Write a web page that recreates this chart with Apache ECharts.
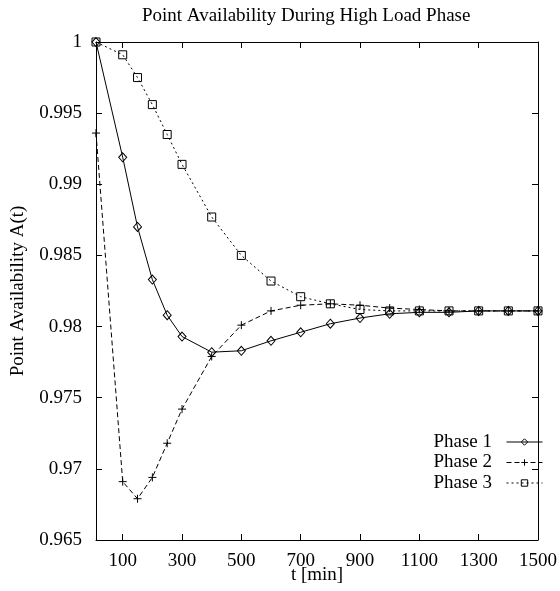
<!DOCTYPE html>
<html>
<head>
<meta charset="utf-8">
<script src="https://cdn.jsdelivr.net/npm/echarts@6/dist/echarts.min.js"></script>
<style>html,body{margin:0;padding:0;background:#fff}#c{width:560px;height:591px}</style>
</head>
<body>
<div id="c"></div>
<script>
const titleText = 'Point Availability During High Load Phase';
const xName = 't [min]';
const yName = 'Point Availability A(t)';
const seriesNames = ['Phase 1', 'Phase 2', 'Phase 3'];
const tValues = [10, 100, 150, 200, 250, 300, 400, 500, 600, 700, 800, 900, 1000, 1100, 1200, 1300, 1400, 1500];
const phase1 = [1.0, 0.9919, 0.9870, 0.9833, 0.9808, 0.9793, 0.9782, 0.9783, 0.9790, 0.9796, 0.9802, 0.9806, 0.9809, 0.9810, 0.9810, 0.9811, 0.9811, 0.9811];
const phase2 = [0.9936, 0.9691, 0.9679, 0.9694, 0.9718, 0.9742, 0.9779, 0.9801, 0.9811, 0.9815, 0.9816, 0.9815, 0.9813, 0.9812, 0.9811, 0.9811, 0.9811, 0.9811];
const phase3 = [1.0, 0.9991, 0.9975, 0.9956, 0.9935, 0.9914, 0.9877, 0.9850, 0.9832, 0.9821, 0.9816, 0.9812, 0.9811, 0.9811, 0.9811, 0.9811, 0.9811, 0.9811];
const xTicks = [100, 300, 500, 700, 900, 1100, 1300, 1500];
const xMin = 10, xMax = 1500;
const yMin = 0.965, yMax = 1, yStep = 0.005;

const FONT = 'Liberation Serif';
const pair = arr => tValues.map((t, i) => [t, arr[i]]);
const axisLineStyle = { lineStyle: { color: '#000', width: 1 } };

const chart = echarts.init(document.getElementById('c'), null, { renderer: 'canvas' });
chart.setOption({
  animation: false,
  backgroundColor: '#fff',
  title: {
    text: titleText, left: 137, top: 2,
    textStyle: { fontFamily: FONT, fontSize: 19, fontWeight: 'normal', color: '#000' }
  },
  grid: { left: 96, right: 22, top: 42, bottom: 51, containLabel: false, outerBoundsMode: 'none' },
  legend: {
    orient: 'vertical', right: 12, top: 427, align: 'right',
    itemWidth: 36, itemHeight: 8, itemGap: 0.5,
    formatter: n => n + '  ',
    textStyle: { fontFamily: FONT, fontSize: 19, color: '#000', lineHeight: 20 },
    itemStyle: { color: 'transparent', borderColor: '#000', borderWidth: 1 },
    lineStyle: { width: 1, color: '#000' },
    data: seriesNames
  },
  xAxis: [{
    type: 'value', min: xMin, max: xMax, position: 'bottom',
    name: xName, nameLocation: 'middle', nameGap: 26, nameMoveOverlap: false,
    nameTextStyle: { fontFamily: FONT, fontSize: 19, color: '#000' },
    axisLine: axisLineStyle, splitLine: { show: false },
    axisTick: { inside: true, length: 6, customValues: xTicks, lineStyle: { color: '#000' } },
    axisLabel: { customValues: xTicks, margin: 12, fontFamily: FONT, fontSize: 19, color: '#000',
      formatter: v => String(v) }
  }, {
    type: 'value', min: xMin, max: xMax, position: 'top',
    axisLine: axisLineStyle, splitLine: { show: false },
    axisTick: { inside: true, length: 6, customValues: xTicks, lineStyle: { color: '#000' } },
    axisLabel: { show: false }
  }],
  yAxis: [{
    type: 'value', min: yMin, max: yMax, interval: yStep, position: 'left',
    name: yName, nameLocation: 'middle', nameGap: 68, nameRotate: 90,
    nameTextStyle: { fontFamily: FONT, fontSize: 19, color: '#000' },
    axisLine: { show: true, lineStyle: { color: '#000', width: 1 } }, splitLine: { show: false },
    axisTick: { show: true, inside: true, length: 6, lineStyle: { color: '#000' } },
    axisLabel: { margin: 14, fontFamily: FONT, fontSize: 19, color: '#000',
      formatter: v => String(+v.toFixed(3)) }
  }, {
    type: 'value', min: yMin, max: yMax, interval: yStep, position: 'right',
    axisLine: { show: true, lineStyle: { color: '#000', width: 1 } }, splitLine: { show: false },
    axisTick: { show: true, inside: true, length: 6, lineStyle: { color: '#000' } },
    axisLabel: { show: false }
  }],
  series: [{
    name: seriesNames[0], type: 'line', data: pair(phase1),
    symbol: 'diamond', symbolSize: [8, 9], showAllSymbol: true,
    lineStyle: { color: '#000', width: 1, type: 'solid' },
    itemStyle: { color: 'transparent', borderColor: '#000', borderWidth: 1 }
  }, {
    name: seriesNames[1], type: 'line', data: pair(phase2),
    symbol: 'path://M0,5L10,5M5,0L5,10', symbolSize: 8, showAllSymbol: true,
    lineStyle: { color: '#000', width: 1, type: [5, 3] },
    itemStyle: { color: 'transparent', borderColor: '#000', borderWidth: 1 }
  }, {
    name: seriesNames[2], type: 'line', data: pair(phase3),
    symbol: 'rect', symbolSize: 8, showAllSymbol: true,
    lineStyle: { color: '#000', width: 1, type: [2, 3] },
    itemStyle: { color: 'transparent', borderColor: '#000', borderWidth: 1 }
  }]
});
</script>
</body>
</html>
